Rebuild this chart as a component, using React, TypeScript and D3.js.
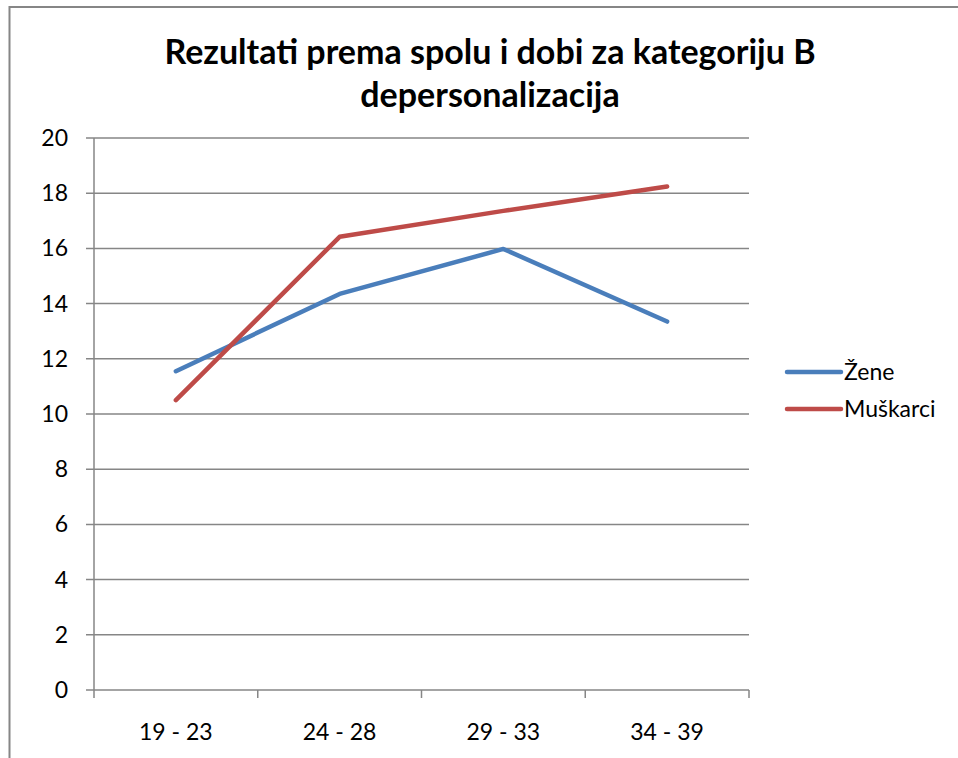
import React from "react";
import * as d3 from "d3";

const categories = ["19 - 23", "24 - 28", "29 - 33", "34 - 39"];
const zene = [11.55, 14.35, 15.98, 13.35];
const muskarci = [10.5, 16.42, 17.36, 18.24];
const yTicks = [0, 2, 4, 6, 8, 10, 12, 14, 16, 18, 20];
const seriesNames = ["Žene", "Muškarci"];
const seriesColors = ["#4a7ebb", "#be4b48"];

const W = 958;
const H = 758;
const plot = { left: 94, right: 749, top: 138, bottom: 690 };
const font = "Lato, 'Open Sans', sans-serif";
const grid = "#868686";

const App: React.FC = () => {
  const x = d3
    .scaleBand<string>()
    .domain(categories)
    .range([plot.left, plot.right]);
  const y = d3.scaleLinear().domain([0, 20]).range([plot.bottom, plot.top]);

  const line = d3
    .line<number>()
    .x((_, i) => x(categories[i])! + x.bandwidth() / 2)
    .y((d) => y(d));

  const series = [zene, muskarci];
  const bounds = [...categories.map((c) => x(c)!), plot.right];

  return (
    <svg
      width={W}
      height={H}
      style={{ position: "absolute", left: 0, top: 0, background: "#fff" }}
    >
      <rect x={9.5} y={7} width={W + 10} height={H + 10} fill="#fff" stroke="#868686" strokeWidth={2} />
      <text
        x={490}
        y={64}
        textAnchor="middle"
        fontFamily={font}
        fontWeight="bold"
        fontSize={34}
      >
        Rezultati prema spolu i dobi za kategoriju B
      </text>
      <text
        x={490}
        y={107}
        textAnchor="middle"
        fontFamily={font}
        fontWeight="bold"
        fontSize={34}
      >
        depersonalizacija
      </text>

      {yTicks.map((t) => (
        <g key={t}>
          <line
            x1={plot.left - 8}
            x2={plot.right}
            y1={y(t)}
            y2={y(t)}
            stroke={grid}
            strokeWidth={1.5}
          />
          <text
            x={plot.left - 26}
            y={y(t)}
            dy="0.35em"
            textAnchor="end"
            fontFamily={font}
            fontSize={23}
          >
            {t}
          </text>
        </g>
      ))}
      <line x1={plot.left} x2={plot.left} y1={plot.top} y2={plot.bottom} stroke={grid} strokeWidth={1.5} />
      {bounds.map((b, i) => (
        <line key={i} x1={b} x2={b} y1={plot.bottom} y2={plot.bottom + 8} stroke={grid} strokeWidth={1.5} />
      ))}
      {categories.map((c) => (
        <text
          key={c}
          x={x(c)! + x.bandwidth() / 2}
          y={740}
          textAnchor="middle"
          fontFamily={font}
          fontSize={23}
        >
          {c}
        </text>
      ))}

      {series.map((s, i) => (
        <path
          key={i}
          d={line(s)!}
          fill="none"
          stroke={seriesColors[i]}
          strokeWidth={4.5}
          strokeLinecap="round"
          strokeLinejoin="round"
        />
      ))}

      {seriesNames.map((n, i) => (
        <g key={n} transform={`translate(0,${372 + i * 37})`}>
          <line x1={787} x2={841} y1={0} y2={0} stroke={seriesColors[i]} strokeWidth={4.5} strokeLinecap="round" />
          <text x={844} y={0} dy="0.35em" fontFamily={font} fontSize={23}>
            {n}
          </text>
        </g>
      ))}
    </svg>
  );
};

export default App;
